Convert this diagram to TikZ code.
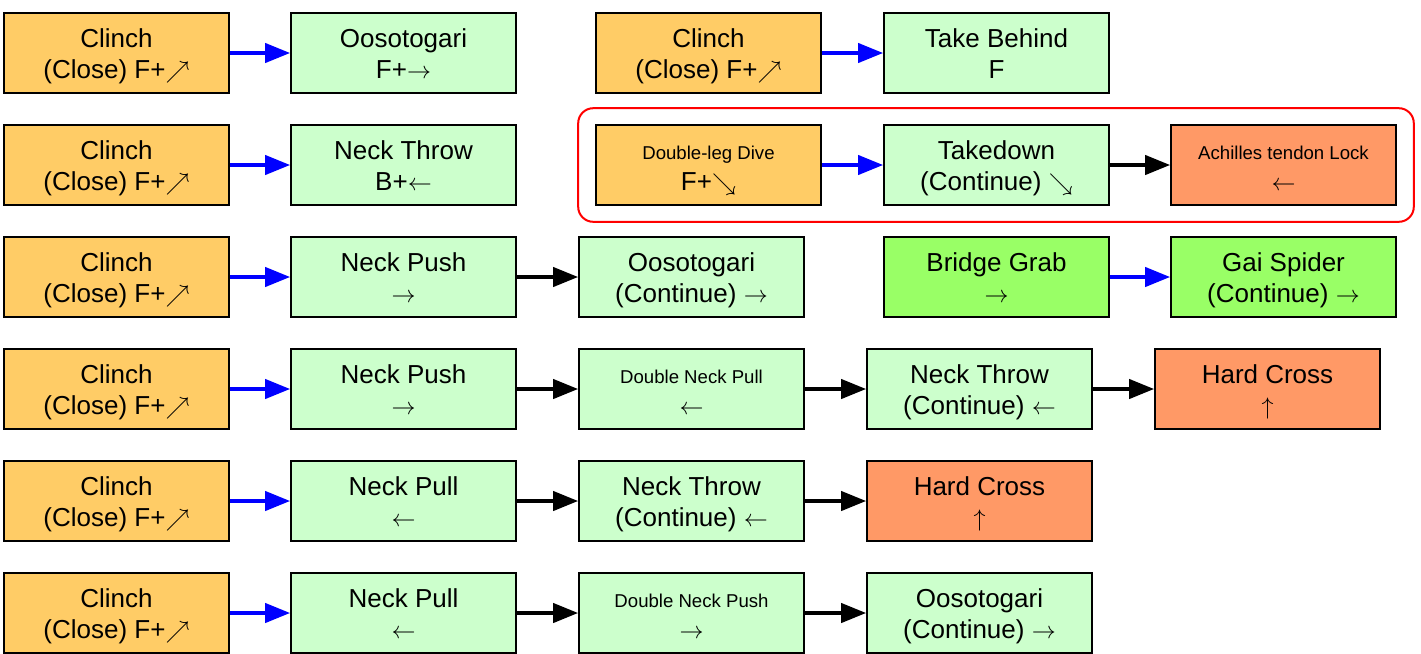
\documentclass[tikz,border=0pt]{standalone}
\usepackage{fontspec}
\setmainfont{Liberation Sans}
\usetikzlibrary{arrows.meta, fit}

\definecolor{clinchorange}{HTML}{FFCC66}
\definecolor{movegreen}{HTML}{CCFFCC}
\definecolor{finishred}{HTML}{FF9966}
\definecolor{bridgegreen}{HTML}{99FF66}

% two lines of a move box: name, then input
\newcommand{\twoline}[2]{\rule{0pt}{15pt}#1\\\strut #2}
\newcommand{\smalltxt}[1]{{\fontsize{9.3}{15.5}\selectfont #1}}

\begin{document}
\begin{tikzpicture}[x=0.5pt, y=-0.5pt,
    move/.style={draw, line width=0.8pt, minimum width=112.5pt, minimum height=40pt,
        inner sep=0pt, align=center, font=\fontsize{13}{15.5}\selectfont},
    opener/.style={move, fill=clinchorange},
    follow/.style={move, fill=movegreen},
    finish/.style={move, fill=finishred},
    bridge/.style={move, fill=bridgegreen},
    go/.style={line width=2pt, -{Triangle[length=12.5pt, width=9.5pt]}},
    input/.style={go, blue},
    link/.style={go, black}]

    \useasboundingbox (0,0) rectangle (1421,654);

    % column centres
    \def\colA{116.5}
    \def\colB{403.5}
    \def\colC{691.5}
    \def\colCC{708.5}
    \def\colD{979.5}
    \def\colDD{996.5}
    \def\colE{1267.5}
    \def\colEE{1283.5}
    % row centres
    \def\rowA{53}
    \def\rowB{165}
    \def\rowC{277}
    \def\rowD{389}
    \def\rowE{501}
    \def\rowF{613}

    % --- Row 1 ---
    \node[opener] (clinch1)  at (\colA,\rowA)  {\twoline{Clinch}{(Close) F+$\nearrow$}};
    \node[follow] (oso1)     at (\colB,\rowA)  {\twoline{Oosotogari}{F+$\rightarrow$}};
    \node[opener] (clinch1b) at (\colCC,\rowA) {\twoline{Clinch}{(Close) F+$\nearrow$}};
    \node[follow] (behind)   at (\colDD,\rowA) {\twoline{Take Behind}{F}};
    \draw[input] (clinch1) -- (oso1);
    \draw[input] (clinch1b) -- (behind);

    % --- Row 2 ---
    \node[opener] (clinch2)  at (\colA,\rowB)  {\twoline{Clinch}{(Close) F+$\nearrow$}};
    \node[follow] (throw2)   at (\colB,\rowB)  {\twoline{Neck Throw}{B+$\leftarrow$}};
    \node[opener] (dive)     at (\colCC,\rowB) {\twoline{\smalltxt{Double-leg Dive}}{F+$\searrow$}};
    \node[follow] (takedown) at (\colDD,\rowB) {\twoline{Takedown}{(Continue) $\searrow$}};
    \node[finish] (lock)     at (\colEE,\rowB) {\twoline{\smalltxt{Achilles tendon Lock}}{$\leftarrow$}};
    \draw[input] (clinch2) -- (throw2);
    \draw[input] (dive) -- (takedown);
    \draw[link] (takedown) -- (lock);
    % frame round the dive combo
    \node[draw=red, line width=1pt, rounded corners=7.5pt, inner xsep=8.5pt, inner ysep=8pt,
        fit=(dive)(lock)] (divecombo) {};

    % --- Row 3 ---
    \node[opener] (clinch3) at (\colA,\rowC)  {\twoline{Clinch}{(Close) F+$\nearrow$}};
    \node[follow] (push3)   at (\colB,\rowC)  {\twoline{Neck Push}{$\rightarrow$}};
    \node[follow] (oso3)    at (\colC,\rowC)  {\twoline{Oosotogari}{(Continue) $\rightarrow$}};
    \node[bridge] (grab)    at (\colDD,\rowC) {\twoline{Bridge Grab}{$\rightarrow$}};
    \node[bridge] (spider)  at (\colEE,\rowC) {\twoline{Gai Spider}{(Continue) $\rightarrow$}};
    \draw[input] (clinch3) -- (push3);
    \draw[link] (push3) -- (oso3);
    \draw[input] (grab) -- (spider);

    % --- Row 4 ---
    \node[opener] (clinch4) at (\colA,\rowD) {\twoline{Clinch}{(Close) F+$\nearrow$}};
    \node[follow] (push4)   at (\colB,\rowD) {\twoline{Neck Push}{$\rightarrow$}};
    \node[follow] (dpull)   at (\colC,\rowD) {\twoline{\smalltxt{Double Neck Pull}}{$\leftarrow$}};
    \node[follow] (throw4)  at (\colD,\rowD) {\twoline{Neck Throw}{(Continue) $\leftarrow$}};
    \node[finish] (cross4)  at (\colE,\rowD) {\twoline{Hard Cross}{$\uparrow$}};
    \draw[input] (clinch4) -- (push4);
    \draw[link] (push4) -- (dpull);
    \draw[link] (dpull) -- (throw4);
    \draw[link] (throw4) -- (cross4);

    % --- Row 5 ---
    \node[opener] (clinch5) at (\colA,\rowE) {\twoline{Clinch}{(Close) F+$\nearrow$}};
    \node[follow] (pull5)   at (\colB,\rowE) {\twoline{Neck Pull}{$\leftarrow$}};
    \node[follow] (throw5)  at (\colC,\rowE) {\twoline{Neck Throw}{(Continue) $\leftarrow$}};
    \node[finish] (cross5)  at (\colD,\rowE) {\twoline{Hard Cross}{$\uparrow$}};
    \draw[input] (clinch5) -- (pull5);
    \draw[link] (pull5) -- (throw5);
    \draw[link] (throw5) -- (cross5);

    % --- Row 6 ---
    \node[opener] (clinch6) at (\colA,\rowF) {\twoline{Clinch}{(Close) F+$\nearrow$}};
    \node[follow] (pull6)   at (\colB,\rowF) {\twoline{Neck Pull}{$\leftarrow$}};
    \node[follow] (dpush)   at (\colC,\rowF) {\twoline{\smalltxt{Double Neck Push}}{$\rightarrow$}};
    \node[follow] (oso6)    at (\colD,\rowF) {\twoline{Oosotogari}{(Continue) $\rightarrow$}};
    \draw[input] (clinch6) -- (pull6);
    \draw[link] (pull6) -- (dpush);
    \draw[link] (dpush) -- (oso6);

\end{tikzpicture}
\end{document}
